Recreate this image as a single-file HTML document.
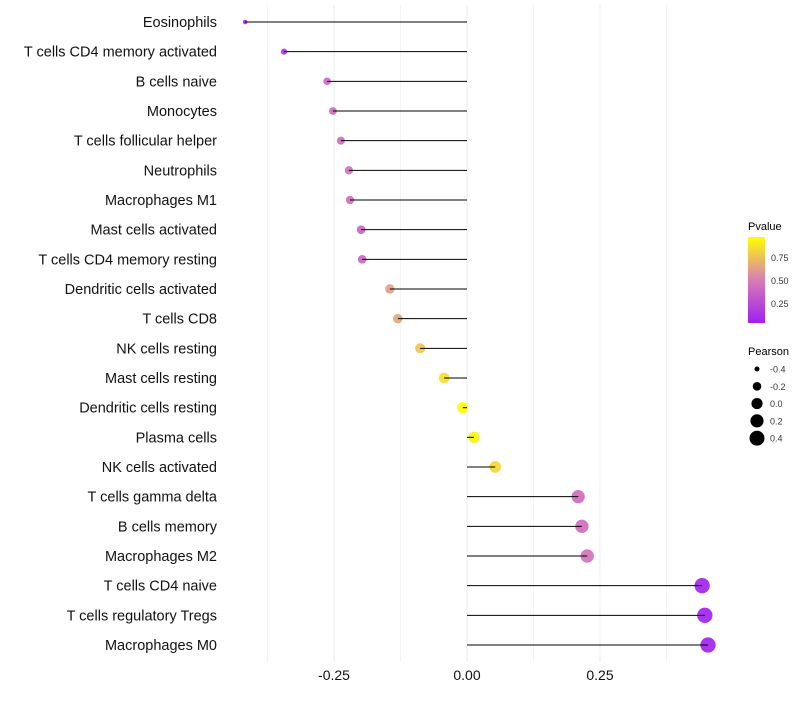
<!DOCTYPE html>
<html><head><meta charset="utf-8"><style>
body{margin:0;background:#fff;font-family:"Liberation Sans",sans-serif}
svg text{font-family:"Liberation Sans",sans-serif}
</style></head><body>
<svg id="chart" width="800" height="700">
<defs><linearGradient id="pg" x1="0" y1="1" x2="0" y2="0">
<stop offset="0" stop-color="#A020F0"/><stop offset="0.5" stop-color="#D87DB4"/><stop offset="1" stop-color="#FFFF00"/>
</linearGradient></defs>
<g id="grid"></g>
<g id="points"></g>
<g id="marks"></g>
<g id="labels"></g>
<g id="xaxis"></g>
<g>
<text x="748" y="230" font-size="11">Pvalue</text>
<rect x="748" y="237" width="17" height="86" fill="url(#pg)"/>
<text x="771" y="261" font-size="9" fill="#333">0.75</text>
<text x="771" y="284" font-size="9" fill="#333">0.50</text>
<text x="771" y="307" font-size="9" fill="#333">0.25</text>
</g>
<g id="sizeleg">
<text x="748" y="355" font-size="11">Pearson</text>
</g>
</svg>
<script>
const categories=["Eosinophils","T cells CD4 memory activated","B cells naive","Monocytes","T cells follicular helper","Neutrophils","Macrophages M1","Mast cells activated","T cells CD4 memory resting","Dendritic cells activated","T cells CD8","NK cells resting","Mast cells resting","Dendritic cells resting","Plasma cells","NK cells activated","T cells gamma delta","B cells memory","Macrophages M2","T cells CD4 naive","T cells regulatory  Tregs","Macrophages M0"];
const pearson=[-0.417,-0.344,-0.263,-0.252,-0.237,-0.222,-0.220,-0.199,-0.197,-0.145,-0.130,-0.088,-0.043,-0.008,0.013,0.053,0.209,0.216,0.226,0.442,0.447,0.453];
const pvalues=[0.05,0.12,0.4,0.42,0.42,0.43,0.43,0.37,0.37,0.63,0.66,0.78,0.88,0.97,0.95,0.85,0.42,0.42,0.45,0.02,0.02,0.02];
const xTicks=[-0.25,0,0.25];
const xTickLabels=["-0.25","0.00","0.25"];
const sizeLegend=[-0.4,-0.2,0,0.2,0.4];
const ns="http://www.w3.org/2000/svg";
const X=v=>467+v*532;
const Y=i=>22+i*(623/21);
const R=v=>Math.sqrt(Math.max(2,31+62*v));
function col(p){
  const stops=[[0,[160,32,240]],[0.5,[216,125,180]],[1,[255,255,0]]];
  let a=stops[0],b=stops[1];if(p>0.5){a=stops[1];b=stops[2];}
  const t=(p-a[0])/(b[0]-a[0]);
  return "rgb("+a[1].map((c,k)=>Math.round(c+(b[1][k]-c)*t)).join(",")+")";
}
function mk(tag,attrs,parent){const e=document.createElementNS(ns,tag);for(const k in attrs)e.setAttribute(k,attrs[k]);parent.appendChild(e);return e;}
const grid=document.getElementById('grid');
for(let v=-0.375;v<=0.4;v+=0.125){
  const g=mk('line',{x1:X(v),x2:X(v),y1:5,y2:662,stroke:Math.abs((v/0.25)%1)<1e-6?'#ebebeb':'#f4f4f4','stroke-width':1},grid);
  
  
}
const marks=document.getElementById('marks'),pts=document.getElementById('points'),labels=document.getElementById('labels');
categories.forEach((c,i)=>{
  const p=mk('circle',{cx:X(pearson[i]),cy:Y(i),r:R(pearson[i]),fill:col(pvalues[i]),'fill-opacity':0.92},pts);
  
  
  const l=mk('line',{x1:X(0),x2:X(pearson[i]),y1:Y(i),y2:Y(i),stroke:'#000','stroke-width':1},marks);
  
  
  const t=mk('text',{x:217,y:Y(i)+5,'text-anchor':'end','font-size':14.5,fill:'#111'},labels);
  t.textContent=c;
  
  
});
const xa=document.getElementById('xaxis');
xTicks.forEach((v,i)=>{
  const t=mk('text',{x:X(v),y:680,'text-anchor':'middle','font-size':14,fill:'#111'},xa);
  t.textContent=xTickLabels[i];
  
  
});
const sl=document.getElementById('sizeleg');
sizeLegend.forEach((v,i)=>{
  const y=369+i*17.3;
  const c=mk('circle',{cx:757,cy:y,r:R(v),fill:'#000'},sl);
  
  
  const t=mk('text',{x:770,y:y+3.5,'font-size':9,fill:'#333'},sl);
  t.textContent=v.toFixed(1);
  
  
});
</script>
</body></html>
